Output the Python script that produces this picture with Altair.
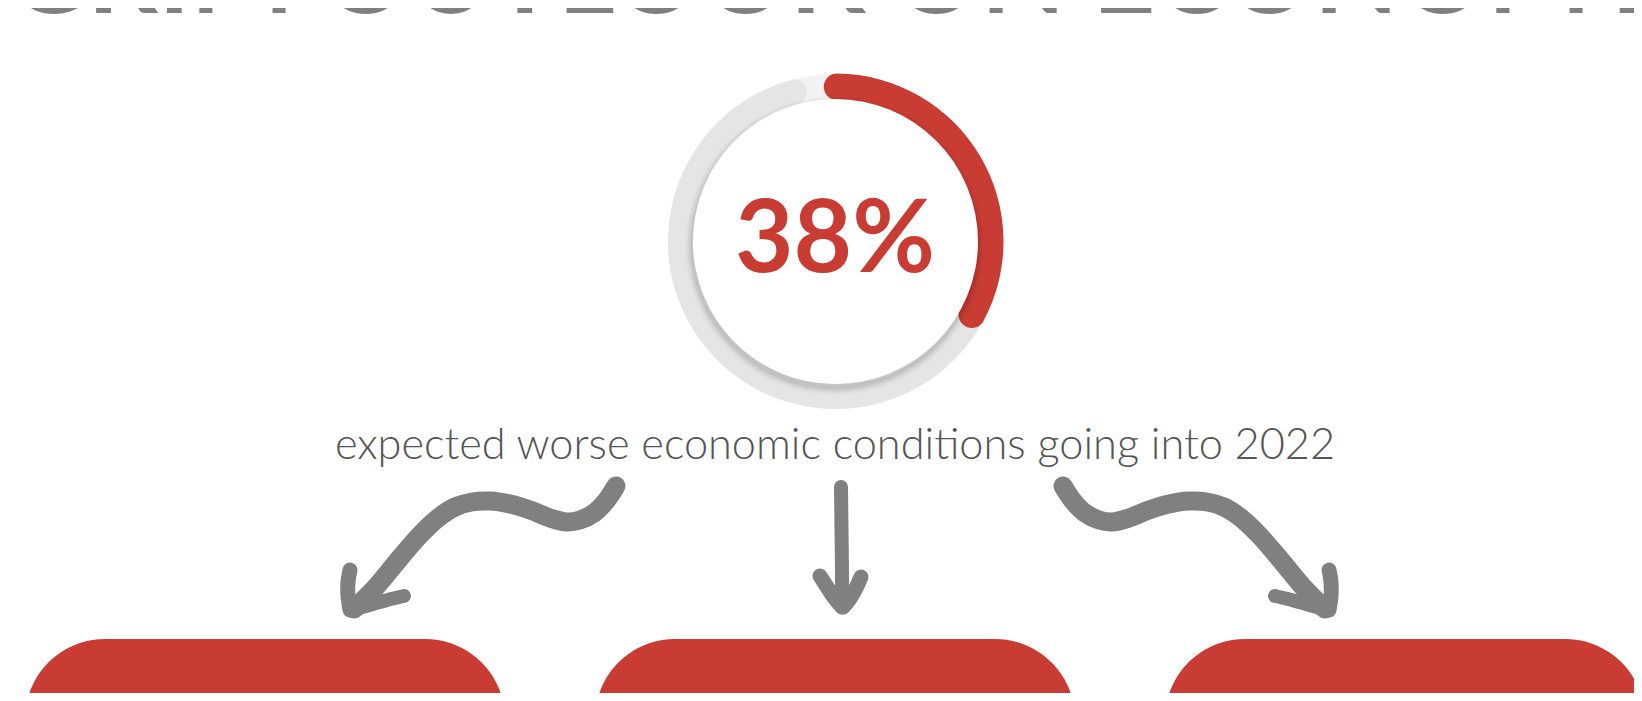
import altair as alt
import pandas as pd

# ---- content ----
TITLE = "GRIM OUTLOOK ON ECONOMY"
PCT_LABEL = "38%"
RED_START = [-1.2]        # red arc as drawn (ring = 100)
RED_END = [34.2]
GRAY_END = [97]           # grey track up to its rounded end
SUBTITLE = "expected worse economic conditions going into 2022"
BOX_NAMES = ["left", "middle", "right"]

# ---- layout (page pixel coordinates) ----
W, H = 1626, 685
X0, Y0 = 8, 8
RED = "#c93c34"
GREY = "#808080"
CX, CY = 835.5, 241.5

xs = alt.Scale(domain=[X0, X0 + W], nice=False, zero=False)
ys = alt.Scale(domain=[Y0, Y0 + H], nice=False, zero=False, reverse=True)
ts = alt.Scale(domain=[0, 100], range=[0, 6.283185307179586])


def X(f):
    return alt.X(f"{f}:Q", scale=xs, axis=None)


def Y(f):
    return alt.Y(f"{f}:Q", scale=ys, axis=None)


def ring(df, **kw):
    return alt.Chart(df).mark_arc(**kw).encode(
        x=X("cx"), y=Y("cy"),
        theta=alt.Theta("t0:Q", scale=ts, stack=None),
        theta2=alt.Theta2("t1:Q"),
    )


full = pd.DataFrame({"cx": [CX], "cy": [CY], "t0": [0], "t1": [100]})
ring_bg = ring(full, radius=167.5, radius2=142, color="#f2f2f2")
gray_arc = ring(pd.DataFrame({"cx": [CX], "cy": [CY], "t0": [0], "t1": GRAY_END}),
                radius=167.5, radius2=143, cornerRadius=12, color="#e5e5e5")
red_arc = ring(pd.DataFrame({"cx": [CX], "cy": [CY], "t0": RED_START, "t1": RED_END}),
               radius=168, radius2=141.5, cornerRadius=13, color=RED)

shadow_layers = []
for r, op in [(150, 0.012), (148.5, 0.02), (147, 0.03), (145.5, 0.04), (144, 0.05)]:
    shadow_layers.append(
        ring(pd.DataFrame({"cx": [CX - 1], "cy": [CY + 4], "t0": [0], "t1": [100]}),
             radius=r, color="#000000", opacity=op)
    )
white_disc = ring(full, radius=142.5, color="#ffffff")

# ---- texts ----
texts = pd.DataFrame({
    "label": [TITLE, PCT_LABEL, SUBTITLE],
    "x": [835, 835, 835],
    "y": [12.5, 272, 459],
})
title_t = alt.Chart(texts.iloc[[0]]).mark_text(
    font="Lato", fontWeight="bold", fontSize=110, color=GREY,
    align="center", baseline="alphabetic"
).encode(x=X("x"), y=Y("y"), text="label:N")
pct_t = alt.Chart(texts.iloc[[1]]).mark_text(
    font="Lato", fontWeight="bold", fontSize=101, color=RED,
    align="center", baseline="alphabetic"
).encode(x=X("x"), y=Y("y"), text="label:N")
sub_t = alt.Chart(texts.iloc[[2]]).mark_text(
    font="Lato", fontWeight=300, fontSize=43.3, color="#555555",
    align="center", baseline="alphabetic"
).encode(x=X("x"), y=Y("y"), text="label:N")

# ---- hand-drawn arrows (decoration paths) ----
left_main = [(616, 486), (606, 501), (594, 513), (580, 520), (567, 522), (550, 518),
             (530, 510), (510, 504), (490, 501), (472, 502), (455, 507), (438, 518),
             (420, 535), (400, 558), (375, 588), (354, 609)]
left_b1 = [(350, 610), (348, 596), (348, 582), (350, 570)]
left_b2 = [(352, 610), (373, 604), (391, 599), (404, 596)]
MIRROR = 1679


def mirror(pts):
    return [(MIRROR - x, y) for x, y in pts]


mid_main = [(841, 487), (841.5, 530), (842, 570), (842, 604)]
mid_b1 = [(820, 576), (829, 590), (836, 600), (842, 607)]
mid_b2 = [(861, 577), (855, 590), (849, 600), (843, 607)]

strokes = [
    (left_main, 19), (left_b1, 15), (left_b2, 14),
    (mirror(left_main), 19), (mirror(left_b1), 15), (mirror(left_b2), 14),
    (mid_main, 14), (mid_b1, 15), (mid_b2, 15),
]
rows = []
for sid, (pts, w) in enumerate(strokes):
    for i, (x, y) in enumerate(pts):
        rows.append({"sid": sid, "i": i, "x": x, "y": y, "w": w})
arrows_df = pd.DataFrame(rows)
arrows = alt.Chart(arrows_df).mark_line(
    color=GREY, strokeCap="round", strokeJoin="round", interpolate="catmull-rom"
).encode(
    x=X("x"), y=Y("y"), detail="sid:N", order="i:Q",
    strokeWidth=alt.StrokeWidth("w:Q", scale=None),
)

# ---- red rounded boxes at the bottom ----
boxes_df = pd.DataFrame({
    "name": BOX_NAMES,
    "x0": [25, 595, 1165],
    "x1": [505, 1075, 1645],
    "y0": [639, 639, 639],
    "y1": [820, 820, 820],
})
boxes = alt.Chart(boxes_df).mark_rect(cornerRadius=80, color=RED, clip=True).encode(
    x=X("x0"), x2="x1", y=Y("y0"), y2="y1"
)

chart = alt.layer(
    ring_bg, gray_arc, red_arc, *shadow_layers, white_disc,
    title_t, pct_t, sub_t, arrows, boxes,
).properties(
    width=W, height=H, padding=0, autosize=alt.AutoSizeParams(type="none")
).configure(background="white").configure_view(strokeWidth=0, stroke=None, fill="white")

chart.save("out.html", embed_options={"renderer": "svg", "actions": False})
